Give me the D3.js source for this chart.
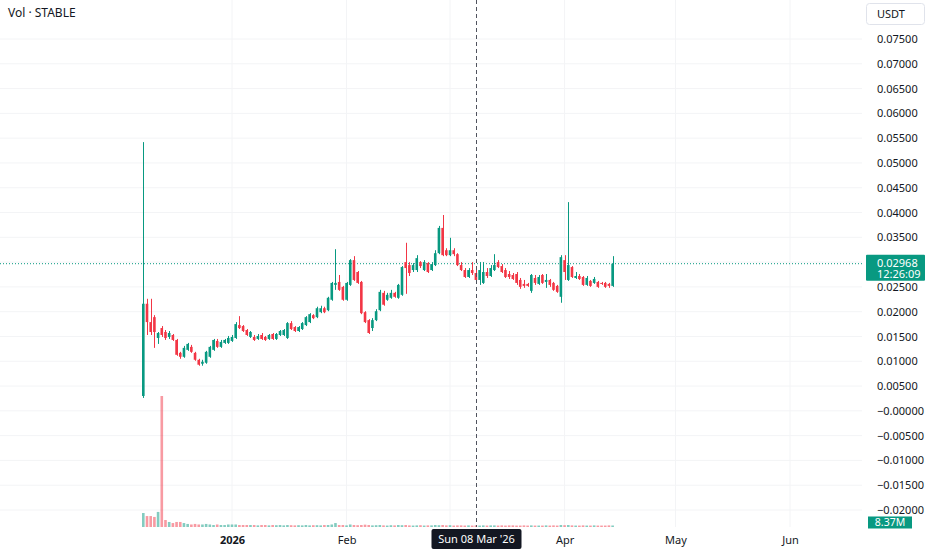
<!DOCTYPE html>
<html>
<head>
<meta charset="utf-8">
<script src="https://cdn.jsdelivr.net/npm/d3@7"></script>
<style>
body{margin:0;background:#fff;}
svg{display:block;font-family:"Noto Sans",Roboto,sans-serif;}
</style>
</head>
<body>
<svg></svg>
<script>
// daily candles from 8 Dec 2025
var firstDay = "2025-12-08";

var opens = [
0.0030,0.0216,0.0179,0.0189,0.0147,0.0167,0.0159,0.0149,0.0153,0.0143,
0.0117,0.0109,0.0123,0.0129,0.0117,0.0103,0.0095,0.0097,0.0109,0.0123,
0.0141,0.0129,0.0137,0.0137,0.0141,0.0147,0.0173,0.0171,0.0163,0.0149,
0.0149,0.0145,0.0153,0.0149,0.0145,0.0155,0.0145,0.0153,0.0153,0.0147,
0.0177,0.0169,0.0161,0.0165,0.0173,0.0179,0.0193,0.0189,0.0199,0.0207,
0.0203,0.0224,0.0254,0.0260,0.0250,0.0224,0.0254,0.0304,0.0280,0.0260,
0.0199,0.0183,0.0167,0.0183,0.0203,0.0238,0.0224,0.0228,0.0238,0.0228,
0.0234,0.0300,0.0294,0.0284,0.0284,0.0300,0.0284,0.0298,0.0284,0.0294,
0.0318,0.0369,0.0324,0.0314,0.0324,0.0316,0.0294,0.0284,0.0270,0.0284,
0.0278,0.0264,0.0258,0.0280,0.0272,0.0284,0.0300,0.0292,0.0284,0.0276,
0.0274,0.0276,0.0264,0.0256,0.0256,0.0242,0.0268,0.0256,0.0274,0.0260,
0.0264,0.0258,0.0252,0.0230,0.0304,0.0264,0.0290,0.0268,0.0272,0.0270,
0.0254,0.0262,0.0258,0.0260,0.0258,0.0258,0.0256,0.0252];

var closes = [
0.0216,0.0179,0.0159,0.0159,0.0157,0.0153,0.0147,0.0157,0.0143,0.0113,
0.0109,0.0127,0.0135,0.0119,0.0103,0.0093,0.0099,0.0119,0.0129,0.0143,
0.0129,0.0139,0.0143,0.0147,0.0149,0.0175,0.0167,0.0161,0.0153,0.0159,
0.0143,0.0151,0.0145,0.0143,0.0153,0.0145,0.0155,0.0161,0.0163,0.0177,
0.0165,0.0161,0.0169,0.0177,0.0189,0.0195,0.0187,0.0207,0.0207,0.0199,
0.0228,0.0258,0.0258,0.0244,0.0224,0.0258,0.0304,0.0264,0.0258,0.0197,
0.0179,0.0157,0.0183,0.0201,0.0240,0.0214,0.0234,0.0238,0.0230,0.0254,
0.0290,0.0288,0.0278,0.0294,0.0308,0.0292,0.0300,0.0280,0.0296,0.0318,
0.0369,0.0314,0.0314,0.0324,0.0316,0.0294,0.0284,0.0270,0.0284,0.0278,
0.0264,0.0284,0.0280,0.0272,0.0288,0.0294,0.0290,0.0280,0.0270,0.0270,
0.0266,0.0258,0.0250,0.0252,0.0252,0.0274,0.0258,0.0270,0.0258,0.0264,
0.0254,0.0244,0.0240,0.0310,0.0280,0.0294,0.0270,0.0272,0.0266,0.0254,
0.0268,0.0252,0.0266,0.0250,0.0256,0.0250,0.0252,0.02968];

var highs = [
0.0542,0.0226,0.0226,0.0193,0.0159,0.0171,0.0163,0.0161,0.0155,0.0145,
0.0119,0.0131,0.0137,0.0133,0.0119,0.0105,0.0103,0.0121,0.0131,0.0145,
0.0145,0.0143,0.0145,0.0151,0.0153,0.0179,0.0191,0.0173,0.0165,0.0161,
0.0153,0.0155,0.0157,0.0151,0.0155,0.0157,0.0157,0.0163,0.0165,0.0179,
0.0181,0.0171,0.0171,0.0179,0.0191,0.0197,0.0195,0.0210,0.0212,0.0210,
0.0230,0.0260,0.0326,0.0274,0.0252,0.0260,0.0306,0.0312,0.0282,0.0262,
0.0201,0.0185,0.0187,0.0205,0.0244,0.0242,0.0238,0.0244,0.0240,0.0256,
0.0292,0.0339,0.0300,0.0298,0.0314,0.0302,0.0304,0.0300,0.0300,0.0324,
0.0373,0.0395,0.0328,0.0349,0.0328,0.0318,0.0300,0.0288,0.0288,0.0300,
0.0292,0.0300,0.0300,0.0288,0.0294,0.0316,0.0304,0.0296,0.0288,0.0282,
0.0278,0.0280,0.0268,0.0264,0.0258,0.0276,0.0274,0.0274,0.0276,0.0276,
0.0266,0.0260,0.0254,0.0314,0.0314,0.0421,0.0292,0.0280,0.0276,0.0272,
0.0272,0.0264,0.0270,0.0262,0.0260,0.0260,0.0258,0.0312];

var lows = [
0.0026,0.0153,0.0153,0.0127,0.0135,0.0149,0.0143,0.0145,0.0141,0.0111,
0.0105,0.0107,0.0121,0.0117,0.0101,0.0091,0.0091,0.0095,0.0107,0.0121,
0.0127,0.0127,0.0135,0.0135,0.0139,0.0145,0.0165,0.0159,0.0151,0.0147,
0.0141,0.0143,0.0143,0.0141,0.0143,0.0143,0.0143,0.0151,0.0151,0.0145,
0.0163,0.0159,0.0159,0.0163,0.0171,0.0177,0.0185,0.0187,0.0197,0.0197,
0.0201,0.0222,0.0244,0.0242,0.0222,0.0222,0.0252,0.0262,0.0256,0.0195,
0.0177,0.0155,0.0161,0.0181,0.0201,0.0212,0.0222,0.0226,0.0228,0.0226,
0.0232,0.0236,0.0272,0.0280,0.0280,0.0288,0.0282,0.0278,0.0282,0.0292,
0.0316,0.0312,0.0312,0.0312,0.0312,0.0292,0.0282,0.0268,0.0268,0.0274,
0.0258,0.0254,0.0256,0.0268,0.0270,0.0282,0.0288,0.0278,0.0268,0.0266,
0.0264,0.0254,0.0246,0.0248,0.0250,0.0238,0.0254,0.0254,0.0256,0.0248,
0.0250,0.0242,0.0238,0.0218,0.0264,0.0262,0.0268,0.0266,0.0264,0.0252,
0.0252,0.0250,0.0256,0.0248,0.0254,0.0248,0.0248,0.0250];

// volume in millions
var volumes = [
78,61,61,56,84,730,39,28,22,28,
28,22,17,14,17,14,14,17,14,11,
14,11,11,14,14,14,11,11,11,11,
11,9,11,11,9,11,10,11,9,11,
10,9,10,9,11,9,10,10,9,11,
11,14,22,11,11,9,14,11,10,11,
13,11,9,10,11,9,8,10,9,11,
10,11,9,8,9,10,8,9,9,11,
10,11,9,10,8,9,9,8,9,8,
9,8,9,8,9,9,8,9,8,9,
9,8,8,9,8,9,8,8,8,9,
8,9,8,11,10,11,9,8,8,9,
8,8,9,8,8,8,9,8.37];

var priceTicks = [0.075,0.07,0.065,0.06,0.055,0.05,0.045,0.04,0.035,0.03,0.025,0.02,0.015,0.01,0.005,0,-0.005,-0.01,-0.015,-0.02];
var monthDates = ["2026-01-01","2026-02-01","2026-04-01","2026-05-01","2026-06-01"];
var monthLabels = ["2026","Feb","Apr","May","Jun"];
var gridDates = ["2026-01-01","2026-02-01","2026-03-01","2026-04-01","2026-05-01","2026-06-01"];

var title = "Vol · STABLE";
var currency = "USDT";
var lastPrice = 0.02968;
var countdown = "12:26:09";
var lastVolumeText = "8.37M";
var crosshairDay = "2026-03-08";
var crosshairText = "Sun 08 Mar '26";

var screen = {width:932, height:550};
var plot = {right:862, bottom:527};
var up = "#089981", down = "#f23645";

var parse = d3.utcParse("%Y-%m-%d");
var day0 = parse(firstDay);

var candles = closes.map(function(c,i){
  return {date:d3.utcDay.offset(day0,i), o:opens[i], h:highs[i], l:lows[i], c:c, v:volumes[i]};
});

var svg = d3.select("svg")
            .attr("width",screen.width)
            .attr("height",screen.height);

svg.append("rect").attr("width",screen.width).attr("height",screen.height).attr("fill","#fff");

// scales
var xScale = d3.scaleUtc()
               .domain([parse("2026-01-01"),parse("2026-06-01")])
               .range([232,790]);
var yScale = d3.scaleLinear()
               .domain([-0.02,0.075])
               .range([510,39]);
var vScale = d3.scaleLinear()
               .domain([0,730])
               .range([plot.bottom,396]);

// grid
svg.append("g").selectAll("line")
   .data(priceTicks).enter().append("line")
   .attr("x1",0).attr("x2",plot.right)
   .attr("y1",function(d){return yScale(d)}).attr("y2",function(d){return yScale(d)})
   .attr("stroke","#f3f4f6");

svg.append("g").selectAll("line")
   .data(gridDates).enter().append("line")
   .attr("x1",function(d){return xScale(parse(d))}).attr("x2",function(d){return xScale(parse(d))})
   .attr("y1",0).attr("y2",plot.bottom)
   .attr("stroke","#f3f4f6");

// volume
var bw = 2.6;
svg.append("g").selectAll("rect")
   .data(candles).enter().append("rect")
   .attr("x",function(d){return xScale(d.date)-bw/2})
   .attr("y",function(d){return vScale(d.v)})
   .attr("width",bw)
   .attr("height",function(d){return Math.max(1,plot.bottom-vScale(d.v))})
   .attr("fill",function(d){return d.c>=d.o?up:down})
   .attr("opacity",0.5);

// last price line
svg.append("line")
   .attr("x1",0).attr("x2",plot.right)
   .attr("y1",yScale(lastPrice)).attr("y2",yScale(lastPrice))
   .attr("stroke",up).attr("stroke-dasharray","1,2");

// candles
var candleG = svg.append("g").selectAll("g")
   .data(candles).enter().append("g")
   .attr("fill",function(d){return d.c>=d.o?up:down})
   .attr("stroke",function(d){return d.c>=d.o?up:down});

candleG.append("line")
   .attr("x1",function(d){return Math.round(xScale(d.date))+0.5})
   .attr("x2",function(d){return Math.round(xScale(d.date))+0.5})
   .attr("y1",function(d){return yScale(d.h)})
   .attr("y2",function(d){return yScale(d.l)})
   .attr("stroke-width",1);

candleG.append("rect")
   .attr("x",function(d){return xScale(d.date)-bw/2})
   .attr("y",function(d){return yScale(Math.max(d.o,d.c))})
   .attr("width",bw)
   .attr("height",function(d){return Math.max(1,Math.abs(yScale(d.o)-yScale(d.c)))})
   .attr("stroke","none");

// crosshair
var cx = Math.round(xScale(parse(crosshairDay)))+0.5;
svg.append("line")
   .attr("x1",cx).attr("x2",cx).attr("y1",0).attr("y2",plot.bottom)
   .attr("stroke","#50535e").attr("stroke-dasharray","4,3");

// price axis (label under the last price box is hidden, as in TradingView)
var py = yScale(lastPrice);
var yAxis = d3.axisRight(yScale)
              .tickValues(priceTicks.filter(function(d){return Math.abs(yScale(d)-py-4)>16}))
              .tickSize(0)
              .tickPadding(15)
              .tickFormat(function(d){ return d===0 ? "\u22120.00000" : d3.format(".5f")(d); });
var yAxisG = svg.append("g").attr("transform","translate("+plot.right+",0)").call(yAxis);
yAxisG.select(".domain").remove();
yAxisG.selectAll("text").attr("font-size",11).attr("fill","#131722").attr("font-family","\"Noto Sans\",Roboto,sans-serif");

// time axis
var xAxis = d3.axisBottom(xScale)
              .tickValues(monthDates.map(parse))
              .tickSize(0)
              .tickPadding(9)
              .tickFormat(function(d,i){return monthLabels[i]});
var xAxisG = svg.append("g").attr("transform","translate(0,"+plot.bottom+")").call(xAxis);
xAxisG.select(".domain").remove();
xAxisG.selectAll("text").attr("font-size",11).attr("fill","#131722")
      .attr("font-weight",function(d,i){return i===0?"bold":"normal"})
      .attr("font-family","\"Noto Sans\",Roboto,sans-serif");

// crosshair date label
svg.append("rect").attr("x",cx-45).attr("y",529).attr("width",90).attr("height",20).attr("rx",2).attr("fill","#131722");
svg.append("text").attr("x",cx).attr("y",543).attr("text-anchor","middle").attr("font-size",11).attr("fill","#fff").text(crosshairText);

// title
svg.append("text").attr("x",8).attr("y",17).attr("font-size",12).attr("fill","#131722").text(title);

// currency box
svg.append("rect").attr("x",866.5).attr("y",3.5).attr("width",58).attr("height",21).attr("rx",3)
   .attr("fill","#fff").attr("stroke","#e0e3eb");
svg.append("text").attr("x",877).attr("y",18).attr("font-size",11).attr("fill","#131722").text(currency);

// last price label
svg.append("rect").attr("x",866).attr("y",py-9).attr("width",59).attr("height",26).attr("rx",1).attr("fill",up);
svg.append("text").attr("x",877).attr("y",py+3).attr("font-size",11).attr("fill","#fff").text(d3.format(".5f")(lastPrice));
svg.append("text").attr("x",877).attr("y",py+14).attr("font-size",11).attr("fill","#fff").text(countdown);

// last volume label
var vy = vScale(volumes[volumes.length-1]);
svg.append("rect").attr("x",868).attr("y",vy-9).attr("width",44).attr("height",12).attr("fill",up);
svg.append("text").attr("x",890).attr("y",vy+1).attr("text-anchor","middle").attr("font-size",10.5).attr("fill","#fff").text(lastVolumeText);
</script>
</body>
</html>
